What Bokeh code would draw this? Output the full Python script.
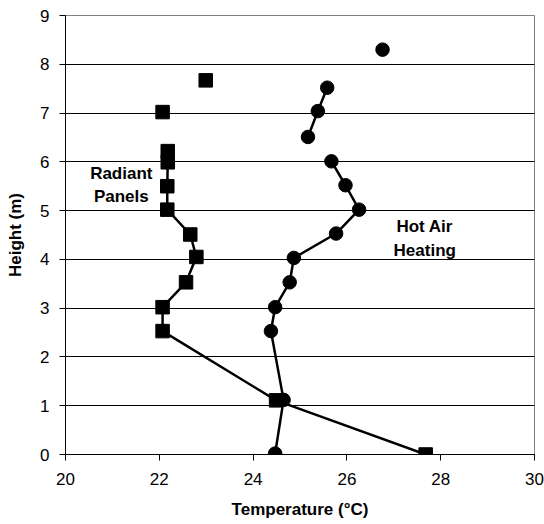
import numpy as np
from bokeh.plotting import figure
from bokeh.models import Range1d, FixedTicker
from bokeh.core.properties import value
from bokeh.embed import file_html
from bokeh.resources import INLINE

# Radiant panels (squares): temperature (°C), height (m)
rad_temp = [27.68, 24.49, 22.07, 22.07, 22.57, 22.79, 22.66, 22.17, 22.17, 22.18, 22.18]
rad_height = [0.0, 1.11, 2.53, 3.02, 3.53, 4.05, 4.51, 5.02, 5.50, 5.99, 6.22]
rad_iso_temp = [22.07, 22.99]
rad_iso_height = [7.02, 7.67]

# Hot air heating (circles)
hot_temp_a = [24.47, 24.65, 24.38, 24.47, 24.78, 24.87, 25.77, 26.26, 25.97, 25.67]
hot_height_a = [0.02, 1.12, 2.53, 3.02, 3.53, 4.03, 4.53, 5.02, 5.52, 6.01]
hot_temp_b = [25.17, 25.38, 25.58]
hot_height_b = [6.51, 7.04, 7.52]
hot_iso_temp = [26.76]
hot_iso_height = [8.30]

x_ticks = [20, 22, 24, 26, 28, 30]
y_ticks = [0, 1, 2, 3, 4, 5, 6, 7, 8, 9]

FONT = "Liberation Sans"

p = figure(width=544, height=524, output_backend="svg", toolbar_location=None,
           x_range=Range1d(20, 30), y_range=Range1d(0, 9),
           min_border_left=65, min_border_right=10, min_border_top=15, min_border_bottom=70)
p.background_fill_color = "white"
p.border_fill_color = "white"
p.outline_line_color = "#808080"
p.outline_line_width = 1

p.xgrid.visible = False
p.ygrid.ticker = FixedTicker(ticks=y_ticks)
p.ygrid.grid_line_color = "#000000"
p.ygrid.grid_line_width = 1

for ax in (p.xaxis[0], p.yaxis[0]):
    ax.axis_line_color = "black"
    ax.axis_line_width = 1
    ax.major_tick_line_color = "black"
    ax.major_tick_in = 0
    ax.major_tick_out = 6
    ax.minor_tick_line_color = None
    ax.major_label_text_font = FONT
    ax.major_label_text_font_size = "17px"
    ax.major_label_text_color = "black"
    ax.axis_label_text_font = FONT
    ax.axis_label_text_font_style = "bold"
    ax.axis_label_text_font_size = "17px"
    ax.axis_label_text_color = "black"

p.xaxis.ticker = FixedTicker(ticks=x_ticks)
p.yaxis.ticker = FixedTicker(ticks=y_ticks)
p.xaxis.axis_label = "Temperature (°C)"
p.yaxis.axis_label = "Height (m)"
p.xaxis.major_label_standoff = 12
p.yaxis.major_label_standoff = 10
p.xaxis.axis_label_standoff = 12
p.yaxis.axis_label_standoff = 12

# lines
p.line(rad_temp, rad_height, line_color="black", line_width=2.5)
p.line(hot_temp_a, hot_height_a, line_color="black", line_width=2.5)
p.line(hot_temp_b, hot_height_b, line_color="black", line_width=2.5)

# markers
p.scatter(rad_temp + rad_iso_temp, rad_height + rad_iso_height, marker="square",
          size=13.5, fill_color="black", line_color="black")
p.scatter(hot_temp_a + hot_temp_b + hot_iso_temp, hot_height_a + hot_height_b + hot_iso_height,
          marker="circle", size=13.5, fill_color="black", line_color="black")

# labels
p.text(x=[21.19, 21.19], y=[5.76, 5.28], text=["Radiant", "Panels"],
       text_font=value(FONT), text_font_style="bold", text_font_size="17px",
       text_align="center", text_baseline="middle", text_color="black")
p.text(x=[27.66, 27.66], y=[4.68, 4.18], text=["Hot Air", "Heating"],
       text_font=value(FONT), text_font_style="bold", text_font_size="17px",
       text_align="center", text_baseline="middle", text_color="black")

open("out.html", "w").write(file_html(p, INLINE))
